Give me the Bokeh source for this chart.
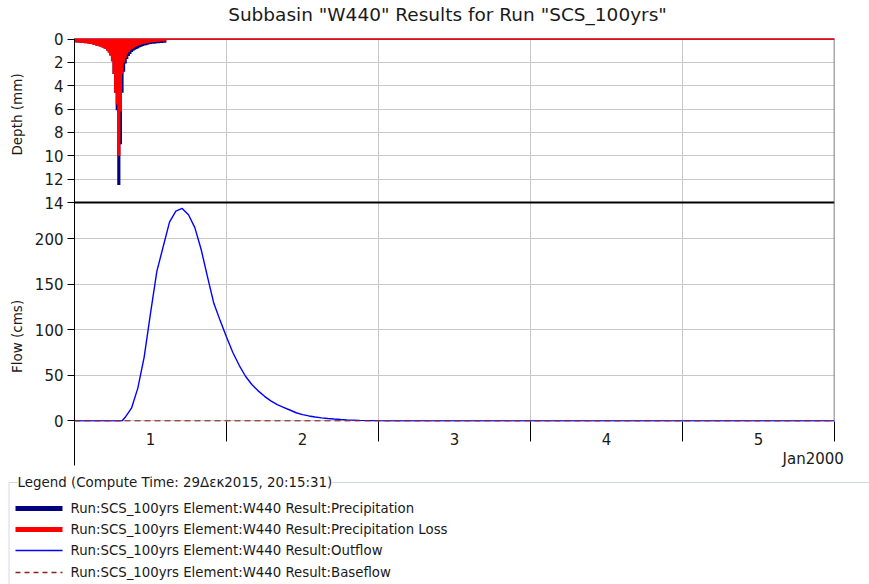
import numpy as np
from bokeh.plotting import figure
from bokeh.models import Range1d, LinearAxis, FixedTicker, Span, Label, ColumnDataSource
from bokeh.layouts import column
from bokeh.core.properties import value
from bokeh.embed import file_html
from bokeh.resources import INLINE

# ---------------- data ----------------
TITLE = 'Subbasin "W440" Results for Run "SCS_100yrs"'
DAY_LABELS = ["1", "2", "3", "4", "5"]
DATE_LABEL = "Jan2000"
SIM_DAYS = 5
DEPTH_TICKS = [0, 2, 4, 6, 8, 10, 12, 14]
FLOW_TICKS = [0, 50, 100, 150, 200]
DEPTH_AXIS_LABEL = "Depth (mm)"
FLOW_AXIS_LABEL = "Flow (cms)"

PRECIP_STEP_HOURS = 0.25
PRECIP_MM = [0.28, 0.29, 0.30, 0.31, 0.32, 0.33, 0.35, 0.36, 0.38, 0.40,
             0.43, 0.46, 0.50, 0.54, 0.58, 0.62, 0.67, 0.73, 0.79, 0.86,
             0.97, 1.15, 1.40, 1.90, 3.00, 4.60, 6.10, 12.50, 12.50, 9.00,
             4.60, 2.80, 2.10, 1.70, 1.45, 1.28, 1.10, 1.00, 0.92, 0.85,
             0.78, 0.70, 0.65, 0.60, 0.56, 0.52, 0.48, 0.45, 0.43, 0.41,
             0.39, 0.37, 0.36, 0.35, 0.34, 0.33, 0.32, 0.31]
LOSS_MM = [0.28, 0.29, 0.30, 0.31, 0.32, 0.33, 0.35, 0.36, 0.38, 0.40,
           0.43, 0.46, 0.50, 0.54, 0.58, 0.62, 0.67, 0.73, 0.79, 0.86,
           0.97, 1.15, 1.40, 1.90, 3.00, 4.60, 5.60, 10.00, 10.00, 6.20,
           3.00, 2.00, 1.60, 1.30, 1.10, 0.95, 0.85, 0.76, 0.68, 0.62,
           0.56, 0.50, 0.46, 0.42, 0.39, 0.36, 0.33, 0.31, 0.29, 0.27,
           0.25, 0.24, 0.23, 0.22, 0.21, 0.21, 0.20, 0.20]

OUTFLOW_HOURS = [0, 1, 2, 3, 4, 5, 6, 7, 7.5, 8, 9, 10, 11, 12, 13, 14, 15, 16,
                 17, 18, 19, 20, 21, 22, 23, 24, 25, 26, 27, 28, 29, 30, 31, 32,
                 33, 34, 35, 36, 37, 38, 39, 40, 41, 42, 43, 44, 45, 46, 47, 48,
                 49, 120]
OUTFLOW_CMS = [0, 0, 0, 0, 0, 0, 0, 0, 0, 4, 14, 36, 70, 118, 164, 191, 218, 230,
               233, 226, 212, 188, 158, 129, 110, 92, 75, 61, 49, 40, 33, 27, 22, 18,
               15, 12, 9, 7, 5.5, 4.3, 3.4, 2.7, 2.1, 1.6, 1.2, 0.9, 0.6, 0.4, 0.25, 0.1,
               0, 0]
BASEFLOW_HOURS = [0, 120]
BASEFLOW_CMS = [0, 0]

LEGEND_TITLE = "Legend (Compute Time: 29\u0394\u03b5\u03ba2015, 20:15:31)"
SERIES_NAMES = ["Run:SCS_100yrs Element:W440 Result:Precipitation",
                "Run:SCS_100yrs Element:W440 Result:Precipitation Loss",
                "Run:SCS_100yrs Element:W440 Result:Outflow",
                "Run:SCS_100yrs Element:W440 Result:Baseflow"]

# ---------------- style / layout ----------------
FONT = "DejaVu Sans"
TXT = "#1a1a1a"
C_PRECIP = "#000080"
C_LOSS = "#ff0000"
C_OUT = "#0000ff"
C_BASE = "#8b2323"
C_GRID = "#c8c8c8"

W = 869
LEFT = 74
RIGHT = 35
TOP = 38
BOTTOM = 55
DEPTH_PX = 164.0
FLOW_PX = 219.0
FRAME_H = DEPTH_PX + FLOW_PX

FLOW_MIN = -0.6
FLOW_TOP = 239.5                      # flow value at the panel separator
flow_ppu = FLOW_PX / (FLOW_TOP - FLOW_MIN)
FLOW_END = FLOW_TOP + DEPTH_PX / flow_ppu

DEPTH_MIN = -0.05
DEPTH_MAX = DEPTH_TICKS[-1]
depth_ppu = DEPTH_PX / (DEPTH_MAX - DEPTH_MIN)
DEPTH_BOTTOM = DEPTH_MAX + FLOW_PX / depth_ppu

MAIN_H = int(TOP + FRAME_H + BOTTOM)
p = figure(width=W, height=MAIN_H,
           x_range=Range1d(0, SIM_DAYS), y_range=Range1d(FLOW_MIN, FLOW_END),
           toolbar_location=None, output_backend="svg",
           min_border_left=LEFT, min_border_right=RIGHT,
           min_border_top=TOP, min_border_bottom=BOTTOM)
p.extra_y_ranges = {"depth": Range1d(DEPTH_BOTTOM, DEPTH_MIN)}
p.outline_line_color = None
p.background_fill_color = "white"

xax = p.below[0]     # default bottom axis
yax = p.left[0]      # default left axis

# chart title carried by a label-only axis above the plot
title_pos = 2.454
tax = LinearAxis(ticker=FixedTicker(ticks=[title_pos], minor_ticks=[]),
                 major_label_overrides={title_pos: TITLE}, axis_line_color=None,
                 major_tick_out=0, major_tick_in=0, minor_tick_out=0, minor_tick_in=0,
                 major_label_standoff=14, major_label_text_font=FONT,
                 major_label_text_font_size="18.5px", major_label_text_color=TXT)
p.add_layout(tax, "above")

# left axis: depth ticks mapped into the flow scale + flow ticks
depth_pos = [round(FLOW_TOP + (DEPTH_MAX - d) * depth_ppu / flow_ppu, 4) for d in DEPTH_TICKS]
yticks = depth_pos + [float(f) for f in FLOW_TICKS]
overrides = {pos: str(d) for pos, d in zip(depth_pos, DEPTH_TICKS)}
overrides.update({float(f): str(f) for f in FLOW_TICKS})
yax.ticker = FixedTicker(ticks=yticks, minor_ticks=[])
yax.major_label_overrides = overrides
yax.major_tick_out = 7
yax.major_tick_in = 0
yax.minor_tick_out = 0
yax.major_label_standoff = 4
yax.major_label_text_font = FONT
yax.major_label_text_font_size = "15px"
yax.major_label_text_color = TXT
yax.axis_line_color = "black"
p.ygrid.ticker = FixedTicker(ticks=yticks)
p.ygrid.grid_line_color = C_GRID

# outer left axis carrying the two panel titles
depth_title_pos = 336.0
flow_title_pos = 92.6
yax_t = LinearAxis(ticker=FixedTicker(ticks=[depth_title_pos, flow_title_pos], minor_ticks=[]),
                   major_label_overrides={depth_title_pos: DEPTH_AXIS_LABEL,
                                          flow_title_pos: FLOW_AXIS_LABEL},
                   major_label_orientation="vertical", axis_line_color=None,
                   major_tick_out=0, major_tick_in=0, minor_tick_out=0, minor_tick_in=0,
                   major_label_standoff=6, major_label_text_font=FONT,
                   major_label_text_font_size="13.5px", major_label_text_color=TXT)
p.add_layout(yax_t, "left")

# bottom axis: day labels centred between day ticks
mid = [i + 0.5 for i in range(SIM_DAYS)]
xax.ticker = FixedTicker(ticks=mid, minor_ticks=list(range(SIM_DAYS + 1)))
xax.major_label_overrides = {m: lab for m, lab in zip(mid, DAY_LABELS)}
xax.major_tick_out = 0
xax.major_tick_in = 0
xax.minor_tick_out = 20
xax.minor_tick_in = 0
xax.minor_tick_line_color = "black"
xax.axis_line_color = None
xax.major_label_standoff = -9
xax.major_label_text_font = FONT
xax.major_label_text_font_size = "15px"
xax.major_label_text_color = TXT

# second tier: start-of-period tick and the month label
jan_pos = 4.86
xax2 = LinearAxis(ticker=FixedTicker(ticks=[jan_pos], minor_ticks=[0]),
                  major_label_overrides={jan_pos: DATE_LABEL}, axis_line_color=None,
                  major_tick_out=0, major_tick_in=0, minor_tick_out=18, minor_tick_in=7,
                  minor_tick_line_color="black", major_label_standoff=-16,
                  major_label_text_font=FONT, major_label_text_font_size="15px",
                  major_label_text_color=TXT)
p.add_layout(xax2, "below")

p.xgrid.ticker = FixedTicker(ticks=list(range(1, SIM_DAYS)))
p.xgrid.grid_line_color = C_GRID

# precipitation steps (hanging from the top)
n = len(PRECIP_MM)
edges = [i * PRECIP_STEP_HOURS / 24.0 for i in range(n + 1)]
src = ColumnDataSource(dict(x=edges, zero=[0.0] * (n + 1),
                            precip=list(PRECIP_MM) + [0.0], loss=list(LOSS_MM) + [0.0]))
p.varea_step(x="x", y1="zero", y2="precip", step_mode="after", source=src,
             y_range_name="depth", fill_color=C_PRECIP)
p.line(x=[0, SIM_DAYS], y=[0, 0], y_range_name="depth", line_color=C_PRECIP, line_width=2)
p.varea_step(x="x", y1="zero", y2="loss", step_mode="after", source=src,
             y_range_name="depth", fill_color=C_LOSS)
p.line(x=[0, SIM_DAYS], y=[0, 0], y_range_name="depth", line_color=C_LOSS, line_width=2)

# flows
p.line(x=[h / 24.0 for h in OUTFLOW_HOURS], y=OUTFLOW_CMS, line_color=C_OUT, line_width=1.4)
p.line(x=[h / 24.0 for h in BASEFLOW_HOURS], y=BASEFLOW_CMS, line_color=C_BASE,
       line_width=1.5, line_dash="6 4")

# separators
p.add_layout(Span(location=FLOW_TOP, dimension="width", line_color="black", line_width=2))
p.add_layout(Span(location=SIM_DAYS, dimension="height", line_color="#555555", line_width=1.5))

# ---------------- legend panel ----------------
LH = 584 - MAIN_H
lg = figure(width=W, height=LH, x_range=Range1d(0, W), y_range=Range1d(LH, 0),
            toolbar_location=None, output_backend="svg", min_border=0,
            x_axis_location=None, y_axis_location=None)
lg.grid.visible = False
lg.outline_line_color = None
for fig in (p, lg):
    if "frame_align" in fig.properties():
        fig.frame_align = False
lg.line(x=[8.5, 8.5, W], y=[LH, 6, 6], line_color="#d2d9e1", line_width=1)
lg.add_layout(Label(x=17, y=6, text=LEGEND_TITLE, text_baseline="middle", text_align="left",
                    text_font=FONT, text_font_size="13.4px", text_color=TXT,
                    background_fill_color="white", background_fill_alpha=1.0))
rows = [32, 53, 74, 96]
styles = [dict(line_color=C_PRECIP, line_width=5),
          dict(line_color=C_LOSS, line_width=5),
          dict(line_color=C_OUT, line_width=1.3),
          dict(line_color=C_BASE, line_width=1.3, line_dash="5 4")]
for yy, st in zip(rows, styles):
    lg.line(x=[15, 62], y=[yy, yy], **st)
lg.text(x=[70] * 4, y=rows, text=SERIES_NAMES, text_font=value(FONT), text_font_size="13.3px",
        text_baseline="middle", text_align="left", text_color=TXT)

layout = column(p, lg, spacing=0)
open("out.html", "w").write(file_html(layout, INLINE))
